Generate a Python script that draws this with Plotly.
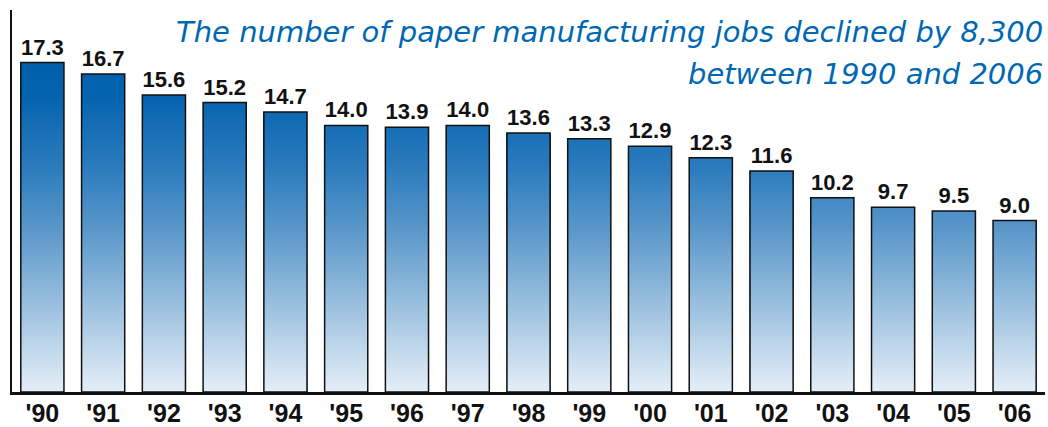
import plotly.graph_objects as go
import numpy as np

years = ["'90", "'91", "'92", "'93", "'94", "'95", "'96", "'97", "'98", "'99",
         "'00", "'01", "'02", "'03", "'04", "'05", "'06"]
jobs = [17.3, 16.7, 15.6, 15.2, 14.7, 14.0, 13.9, 14.0, 13.6, 13.3,
        12.9, 12.3, 11.6, 10.2, 9.7, 9.5, 9.0]
value_labels = [f"{v:.1f}" for v in jobs]
title_line1 = "The number of paper manufacturing jobs declined by 8,300"
title_line2 = "between 1990 and 2006"

# gradient stops (value on axis -> rgb)
grad_pos = [0.0, 4.5, 8.7, 11.7, 14.0, 15.5, 17.3]
grad_rgb = [(230, 239, 248), (155, 193, 224), (88, 150, 202), (45, 125, 190),
            (22, 110, 181), (5, 100, 175), (0, 96, 170)]

def color_at(v):
    r = np.interp(v, grad_pos, [c[0] for c in grad_rgb])
    g = np.interp(v, grad_pos, [c[1] for c in grad_rgb])
    b = np.interp(v, grad_pos, [c[2] for c in grad_rgb])
    return f"rgb({int(r)},{int(g)},{int(b)})"

fig = go.Figure()
vals = np.array(jobs)
N = 120
top = vals.max()
for k in range(N, 0, -1):
    lvl = top * k / N
    yk = np.minimum(vals, lvl)
    fig.add_trace(go.Bar(
        x=years, y=yk, marker=dict(color=color_at(lvl - top / N / 2), line=dict(width=0)),
        showlegend=False, hoverinfo="skip"))

fig.add_trace(go.Bar(
    x=years, y=jobs, text=value_labels, textposition="outside",
    textfont=dict(family="Liberation Sans, Arial", size=22, color="#111111", weight="bold"),
    marker=dict(color="rgba(0,0,0,0)", line=dict(color="#111111", width=1.5)),
    showlegend=False, cliponaxis=False))

fig.update_layout(
    barmode="overlay", bargap=0.29,
    width=1048, height=427,
    margin=dict(l=12, r=3, t=10, b=35, autoexpand=False),
    plot_bgcolor="white", paper_bgcolor="white",
    xaxis=dict(showline=True, linecolor="#111111", linewidth=2.5, ticks="", automargin=False,
               ticklabelstandoff=-3,
               tickfont=dict(family="Liberation Sans, Arial", size=25, color="#111111", weight="bold"),
               showgrid=False),
    yaxis=dict(range=[0, 20.06], showline=True, linecolor="#111111", linewidth=2, automargin=False,
               showticklabels=False, ticks="", showgrid=False, zeroline=False),
    annotations=[
        dict(text=f"<i>{title_line1}</i>", xref="paper", yref="paper", x=1.0, y=1.0,
             xanchor="right", yanchor="top", showarrow=False, yshift=-3,
             font=dict(family="DejaVu Sans, Liberation Sans", size=29, color="#0068B3")),
        dict(text=f"<i>{title_line2}</i>", xref="paper", yref="paper", x=1.0, y=1.0,
             xanchor="right", yanchor="top", showarrow=False, yshift=-45,
             font=dict(family="DejaVu Sans, Liberation Sans", size=29, color="#0068B3")),
    ],
)
fig.write_html("out.html")
